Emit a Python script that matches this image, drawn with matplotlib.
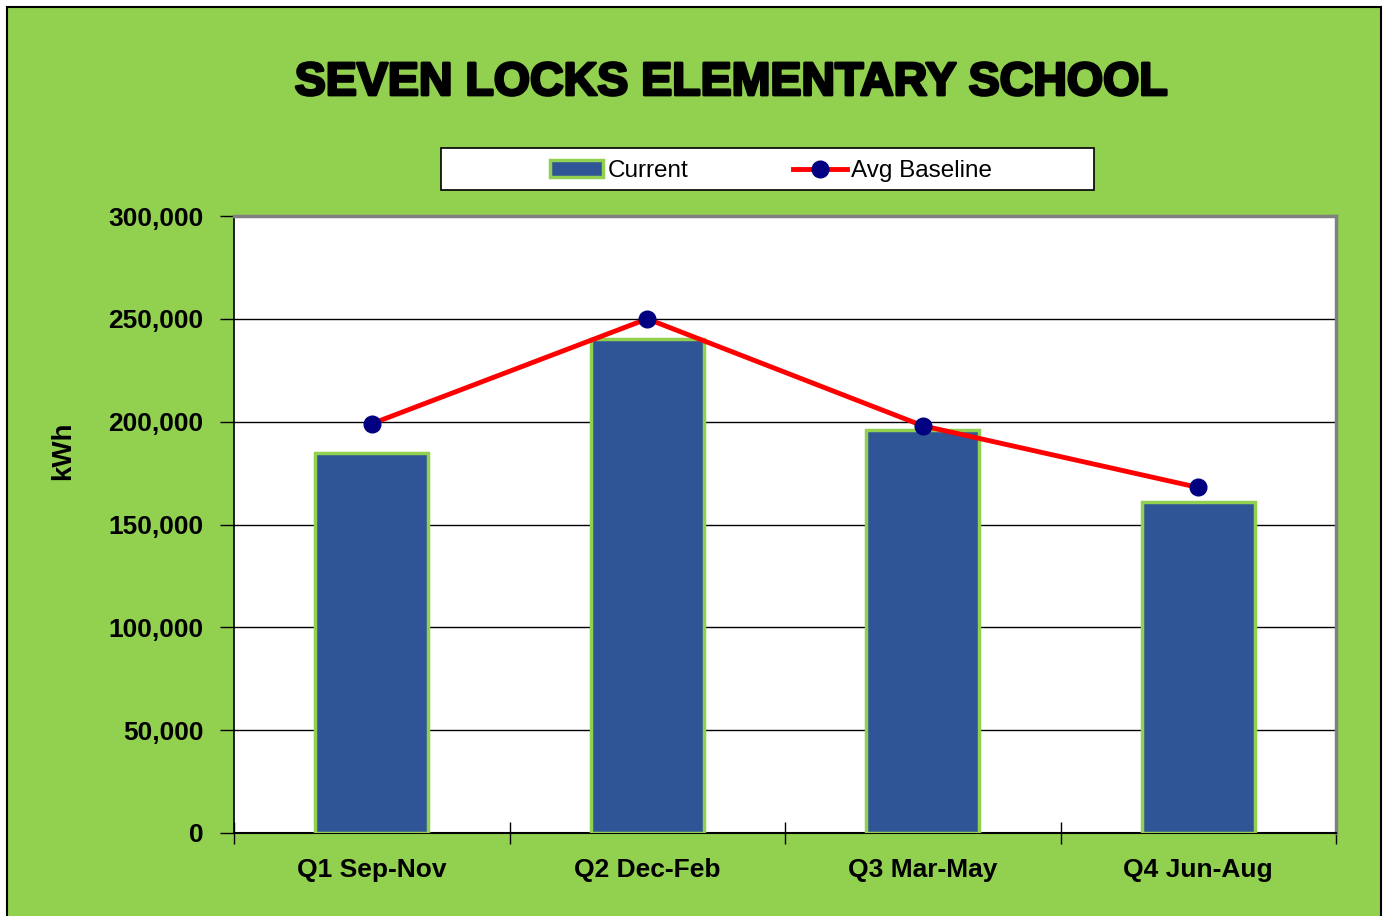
import numpy as np
import matplotlib
matplotlib.use("Agg")
import matplotlib.pyplot as plt
import matplotlib.patheffects as pe
from matplotlib.patches import Rectangle
from matplotlib.ticker import FuncFormatter, MultipleLocator, FixedLocator

quarters = ["Q1 Sep-Nov", "Q2 Dec-Feb", "Q3 Mar-May", "Q4 Jun-Aug"]
current = [185000, 240000, 196000, 161000]
baseline = [199000, 250000, 198000, 168000]

GREEN = "#92D050"
BLUE = "#2F5597"
SANS = ["Liberation Sans", "DejaVu Sans"]

fig = plt.figure(figsize=(13.85, 9.16), dpi=100)
fig.patch.set_facecolor("white")
# green chart area with black border, and white legend box
fig.patches.append(Rectangle((7/1385, -0.01), 1374/1385, 1.01 - 7/916, transform=fig.transFigure,
                             facecolor=GREEN, edgecolor="black", lw=1.5, zorder=-10))
fig.patches.append(Rectangle((441/1385, 1 - 190/916), 653/1385, 42/916, transform=fig.transFigure,
                             facecolor="white", edgecolor="black", lw=1.2, zorder=-5))

ax = fig.add_axes([234/1385, 1 - 833/916, 1102/1385, 617/916])
ax.set_facecolor("white")
x = np.arange(len(quarters))
bars = ax.bar(x, current, width=0.41, color=BLUE, edgecolor=GREEN, linewidth=2.5, zorder=3, label="Current")
line, = ax.plot(x, baseline, color="red", lw=3.5, marker="o", markersize=12, markerfacecolor="#000080",
                markeredgecolor="#000080", zorder=4, label="Avg Baseline")

ax.set_xlim(-0.5, 3.5)
ax.set_ylim(0, 300000)
ax.yaxis.set_major_locator(MultipleLocator(50000))
ax.yaxis.set_major_formatter(FuncFormatter(lambda v, p: f"{int(v):,}"))
ax.grid(axis="y", color="black", lw=1, zorder=1)
ax.set_axisbelow(True)

ax.xaxis.set_major_locator(FixedLocator([-0.5, 0.5, 1.5, 2.5, 3.5]))
ax.xaxis.set_minor_locator(FixedLocator(x))
ax.set_xticklabels([])
ax.set_xticklabels(quarters, minor=True)
ax.tick_params(axis="x", which="major", direction="inout", length=16, width=1, color="black")
ax.tick_params(axis="x", which="minor", length=0, pad=18)
ax.tick_params(axis="y", direction="out", length=10, width=1, pad=12)
for lab in ax.get_yticklabels() + ax.get_xticklabels(minor=True):
    lab.set_family(SANS)
    lab.set_fontweight("bold")
    lab.set_fontsize(19)

for s in ["top", "right"]:
    ax.spines[s].set_color("#808080")
    ax.spines[s].set_linewidth(2.5)
ax.spines["left"].set_color("black")
ax.spines["bottom"].set_color("black")
ax.spines["left"].set_linewidth(1.2)
ax.spines["bottom"].set_linewidth(1.5)

fig.text(63/1385, 1 - 451/916, "kWh", rotation=90, ha="center", va="center",
         family=SANS, fontweight="bold", fontsize=20)
fig.text(731/1385, 1 - 83/916, "SEVEN LOCKS ELEMENTARY SCHOOL", ha="center", va="center",
         family=SANS, fontweight="heavy", fontsize=33.5,
         path_effects=[pe.withStroke(linewidth=2, foreground="black")])

leg = fig.legend([bars, line], ["Current", "Avg Baseline"], loc="center",
                 bbox_to_anchor=(771/1385, 1 - 171/916), ncol=2, frameon=False,
                 handlelength=2.2, handletextpad=0.2, columnspacing=4.3,
                 prop={"family": SANS, "size": 17.5})

fig.savefig("out.png", dpi=100)
